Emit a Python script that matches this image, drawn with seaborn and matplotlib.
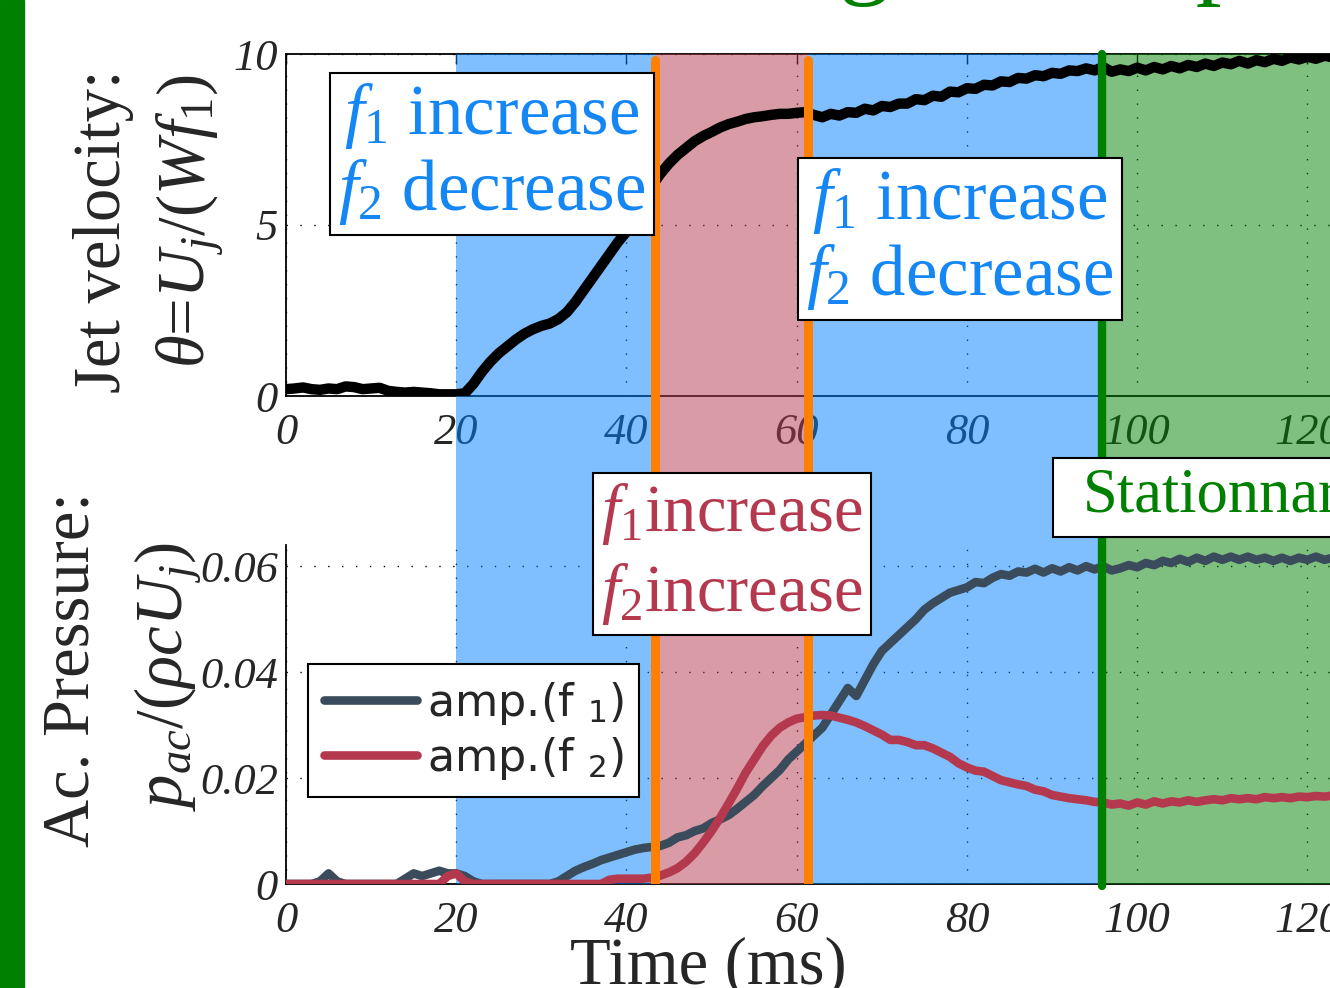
import matplotlib
matplotlib.use('Agg')
import matplotlib.pyplot as plt
import seaborn as sns
from matplotlib.patches import Rectangle

# time axis (ms), 1 ms steps
time_ms = list(range(0, 124))

# jet velocity theta = Uj/(W f1)
theta = [0.20, 0.22, 0.25, 0.20, 0.18, 0.22, 0.20, 0.28, 0.26, 0.20,
         0.22, 0.24, 0.15, 0.12, 0.10, 0.12, 0.10, 0.08, 0.05, 0.05,
         0.05, 0.08, 0.35, 0.70, 1.00, 1.25, 1.45, 1.65, 1.82, 1.95,
         2.05, 2.12, 2.25, 2.45, 2.75, 3.10, 3.45, 3.80, 4.15, 4.50,
         4.80, 5.25, 5.70, 6.15, 6.50, 6.80, 7.05, 7.25, 7.45, 7.60,
         7.72, 7.85, 7.95, 8.02, 8.10, 8.15, 8.18, 8.22, 8.25, 8.25,
         8.28, 8.30, 8.22, 8.15, 8.25, 8.20, 8.30, 8.28, 8.40, 8.35,
         8.48, 8.45, 8.55, 8.55, 8.68, 8.65, 8.78, 8.75, 8.90, 8.88,
         9.00, 8.98, 9.10, 9.08, 9.20, 9.18, 9.30, 9.28, 9.38, 9.35,
         9.45, 9.42, 9.52, 9.50, 9.58, 9.52, 9.62, 9.48, 9.55, 9.50,
         9.60, 9.52, 9.62, 9.55, 9.65, 9.58, 9.68, 9.62, 9.72, 9.65,
         9.75, 9.70, 9.80, 9.72, 9.82, 9.76, 9.86, 9.80, 9.90, 9.84,
         9.92, 9.86, 9.95, 9.90]

# acoustic pressure amplitudes
amp_f1 = [0, 0, 0, 0, 0.0005, 0.002, 0.0005, 0, 0, 0,
          0, 0, 0, 0, 0.001, 0.002, 0.0015, 0.002, 0.0025, 0.002,
          0.002, 0.0015, 0.0005, 0, 0, 0, 0, 0, 0, 0,
          0, 0, 0.0005, 0.0015, 0.0025, 0.0032, 0.0038, 0.0045, 0.005, 0.0055,
          0.006, 0.0065, 0.0068, 0.007, 0.0072, 0.0078, 0.0088, 0.0092, 0.010, 0.0105,
          0.0115, 0.0122, 0.013, 0.0142, 0.0155, 0.0168, 0.0185, 0.020, 0.0215, 0.0235,
          0.025, 0.0265, 0.028, 0.0295, 0.032, 0.0345, 0.037, 0.0355, 0.0385, 0.0415,
          0.044, 0.0455, 0.047, 0.0485, 0.050, 0.0518, 0.053, 0.054, 0.055, 0.0555,
          0.056, 0.057, 0.0568, 0.0578, 0.0585, 0.0582, 0.059, 0.0588, 0.0595, 0.0588,
          0.0596, 0.059, 0.0598, 0.0592, 0.060, 0.0594, 0.060, 0.0592, 0.0596, 0.0602,
          0.0598, 0.0606, 0.0602, 0.061, 0.0606, 0.0614, 0.0608, 0.0616, 0.061, 0.0618,
          0.0612, 0.0618, 0.0612, 0.0618, 0.0612, 0.0616, 0.061, 0.0616, 0.061, 0.0616,
          0.0612, 0.0618, 0.0612, 0.0616]

amp_f2 = [0, 0, 0, 0, 0, 0, 0, 0, 0, 0,
          0, 0, 0, 0, 0, 0, 0, 0, 0, 0.0015,
          0.002, 0.0005, 0, 0, 0, 0, 0, 0, 0, 0,
          0, 0, 0, 0, 0, 0, 0, 0, 0.0008, 0.001,
          0.001, 0.001, 0.001, 0.0012, 0.0016, 0.0022, 0.003, 0.0042, 0.0058, 0.0078,
          0.010, 0.0125, 0.0152, 0.018, 0.021, 0.0235, 0.026, 0.028, 0.0295, 0.0305,
          0.0312, 0.0315, 0.0318, 0.0319, 0.0318, 0.0314, 0.031, 0.0305, 0.0298, 0.029,
          0.0282, 0.0272, 0.0272, 0.0268, 0.0262, 0.0262, 0.0256, 0.0248, 0.024, 0.0228,
          0.022, 0.0214, 0.0212, 0.0204, 0.0196, 0.0192, 0.0188, 0.0185, 0.0178, 0.0175,
          0.0168, 0.0165, 0.0162, 0.016, 0.0158, 0.0155, 0.0154, 0.0150, 0.0152, 0.0148,
          0.0154, 0.015, 0.0156, 0.0152, 0.0156, 0.0154, 0.0158, 0.0155, 0.0158, 0.016,
          0.0158, 0.0162, 0.016, 0.0162, 0.016, 0.0164, 0.0162, 0.0164, 0.0162, 0.0165,
          0.0164, 0.0166, 0.0165, 0.0167]

# phase boundaries (ms)
t_start = 20
t_switch1 = 43.4
t_switch2 = 61.3
t_stat = 95.9
t_end = 125

x_ticks = [0, 20, 40, 60, 80, 100, 120]
top_yticks = [0, 5, 10]
bot_yticks = [0, 0.02, 0.04, 0.06]
bot_yticklabels = ['0', '0.02', '0.04', '0.06']

BLUE = '#0080FF'
RED = '#B5394E'
GREEN = '#008000'
ORANGE = '#FF8000'
SLATE = '#3A4B5B'
TXT_BLUE = '#1487F5'

sns.set_theme(style='white')
plt.rcParams['font.family'] = ['Liberation Serif', 'DejaVu Serif']
plt.rcParams['mathtext.fontset'] = 'custom'
plt.rcParams['mathtext.rm'] = 'Liberation Serif'
plt.rcParams['mathtext.it'] = 'Liberation Serif:italic'
plt.rcParams['mathtext.bf'] = 'Liberation Serif:bold'
plt.rcParams['mathtext.sf'] = 'DejaVu Sans'
plt.rcParams['mathtext.fallback'] = 'stix'

W, H = 1330, 988
fig = plt.figure(figsize=(W / 100, H / 100), dpi=100)


def box(l, t, r, b):
    return [l / W, 1 - b / H, (r - l) / W, (b - t) / H]


def fx(px):
    return px / W


def fy(py):
    return 1 - py / H


X0, X1 = 286, 1350
ax_top = fig.add_axes(box(X0, 54, X1, 396), zorder=1)
ax_bot = fig.add_axes(box(X0, 545, X1, 884), zorder=1)

tick_font = dict(fontsize=32, fontstyle='italic', fontfamily='Liberation Serif')
for ax, yt, yl, ylim in [(ax_top, top_yticks, ['0', '5', '10'], (0, 10)),
                          (ax_bot, bot_yticks, bot_yticklabels, (0, 0.064))]:
    ax.set_xlim(0, t_end)
    ax.set_ylim(*ylim)
    ax.set_xticks(x_ticks, labels=[str(v) for v in x_ticks], **tick_font)
    ax.set_yticks(yt, labels=yl, **tick_font)
    ax.tick_params(direction='in', length=7, width=1, color='black', pad=6)
    ax.tick_params(axis='x', pad=12)
    ax.grid(True, color='black', linestyle=(0, (1, 9)), linewidth=1)
    ax.set_facecolor('white')
    for s in ax.spines.values():
        s.set_color('black')
        s.set_linewidth(1.3)

ax_top.tick_params(top=True, right=True)
ax_bot.spines['top'].set_visible(False)
ax_bot.spines['right'].set_visible(False)

# translucent phase overlay covering both panels
ax_span = fig.add_axes(box(X0, 54, X1, 884), zorder=2)
ax_span.set_xlim(0, t_end)
ax_span.set_ylim(0, 1)
ax_span.axis('off')
ax_span.patch.set_alpha(0)
ax_span.axvspan(t_start, t_switch1, color=BLUE, alpha=0.5, lw=0)
ax_span.axvspan(t_switch1, t_switch2, color=RED, alpha=0.5, lw=0)
ax_span.axvspan(t_switch2, t_stat, color=BLUE, alpha=0.5, lw=0)
ax_span.axvspan(t_stat, t_end, color=GREEN, alpha=0.5, lw=0)

# curves above the overlay
ax_top_c = fig.add_axes(box(X0, 54, X1, 396), zorder=3)
ax_bot_c = fig.add_axes(box(X0, 545, X1, 884), zorder=3)
for ax in [ax_top_c, ax_bot_c]:
    ax.patch.set_alpha(0)

sns.lineplot(x=time_ms, y=theta, ax=ax_top_c, color='black', lw=7.5)
sns.lineplot(x=time_ms, y=amp_f1, ax=ax_bot_c, color=SLATE, lw=6.2,
             label=r'amp.(f $_{\mathsf{1}}$)')
sns.lineplot(x=time_ms, y=amp_f2, ax=ax_bot_c, color=RED, lw=6.2,
             label=r'amp.(f $_{\mathsf{2}}$)')
for ax, ylim in [(ax_top_c, (0, 10)), (ax_bot_c, (0, 0.064))]:
    ax.set_xlim(0, t_end)
    ax.set_ylim(*ylim)
    ax.axis('off')

leg = ax_bot_c.legend(loc='upper left', bbox_to_anchor=(0.0207, 0.6486),
                      borderaxespad=0, prop={'family': 'DejaVu Sans', 'size': 32},
                      handlelength=2.1, handletextpad=0.22, labelspacing=0.18,
                      frameon=True, fancybox=False, borderpad=0.35, framealpha=1)
leg.get_frame().set_edgecolor('black')
leg.get_frame().set_linewidth(1.5)

# phase switch lines
ax_front = fig.add_axes(box(X0, 54, X1, 884), zorder=4)
ax_front.set_xlim(0, t_end)
ax_front.set_ylim(0, 1)
ax_front.axis('off')
ax_front.patch.set_alpha(0)
ax_front.axvline(t_switch1, ymin=0, ymax=(884 - 60) / 830, color=ORANGE, lw=6.5)
ax_front.axvline(t_switch2, ymin=0, ymax=(884 - 60) / 830, color=ORANGE, lw=6.5)
ax_front.axvline(t_stat, ymin=-2 / 830, ymax=1, color=GREEN, lw=6, clip_on=False)

# annotation boxes
bb = dict(boxstyle='square,pad=0.12', fc='white', ec='black', lw=1.5)
blue_txt = r'$f_{\mathit{1}}$ increase' + '\n' + r'$f_{\mathit{2}}$ decrease'
fig.text(fx(492), fy(154), blue_txt, color=TXT_BLUE,
         fontsize=51, ha='center', va='center', linespacing=1.1, bbox=bb, zorder=10)
fig.text(fx(960), fy(239), blue_txt, color=TXT_BLUE,
         fontsize=51, ha='center', va='center', linespacing=1.1, bbox=bb, zorder=10)
red_txt = r'$f_{\mathit{1}}$increase' + '\n' + r'$f_{\mathit{2}}$increase'
fig.text(fx(732), fy(554), red_txt, color=RED,
         fontsize=48, ha='center', va='center', linespacing=1.28, bbox=bb, zorder=10)

fig.add_artist(Rectangle((fx(1053), fy(537)), fx(400), 79 / H, transform=fig.transFigure,
                         fc='white', ec='black', lw=1.5, zorder=9))
fig.text(fx(1083), fy(512), 'Stationnary', color=GREEN, fontsize=45,
         ha='left', va='baseline', zorder=10)

# axis labels
fig.text(fx(103), fy(231), 'Jet velocity:', rotation=90, fontsize=48,
         ha='center', va='center')
fig.text(fx(190), fy(221), r'$\theta$=$U_j/(Wf_{\mathit{1}})$', rotation=90, fontsize=48,
         ha='center', va='center')
fig.text(fx(72), fy(670), 'Ac. Pressure:', rotation=90, fontsize=48,
         ha='center', va='center')
fig.text(fx(168), fy(677), r'$p_{ac}/(\rho c U_j)$', rotation=90, fontsize=48,
         ha='center', va='center')
fig.text(fx(708), fy(984), 'Time (ms)', fontsize=48, ha='center', va='baseline')

# slide decoration: green side bar and title cut by the top edge
fig.add_artist(Rectangle((0, 0), 24 / W, 1, transform=fig.transFigure,
                         color=GREEN, zorder=0))
fig.text(fx(725), fy(-15), 'Regime map', color=GREEN, fontsize=74, va='baseline')

fig.savefig('out.png', dpi=100)
